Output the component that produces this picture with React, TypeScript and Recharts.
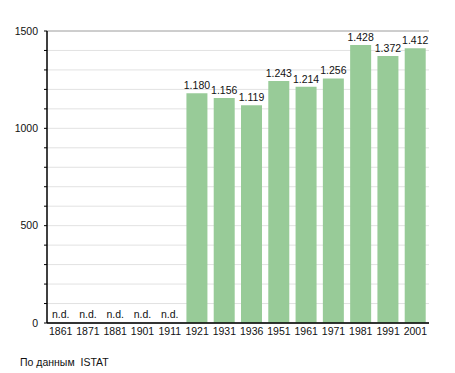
import React from 'react';
import {
  BarChart, Bar, XAxis, YAxis, CartesianGrid, LabelList,
} from 'recharts';

const years = ['1861', '1871', '1881', '1901', '1911', '1921', '1931', '1936', '1951', '1961', '1971', '1981', '1991', '2001'];
const population: (number | null)[] = [null, null, null, null, null, 1180, 1156, 1119, 1243, 1214, 1256, 1428, 1372, 1412];
const minorTicks = [0, 100, 200, 300, 400, 500, 600, 700, 800, 900, 1000, 1100, 1200, 1300, 1400, 1500];
const majorTicks = [0, 500, 1000, 1500];
const source = 'По данным  ISTAT';

const data = years.map((year, i) => ({ year, value: population[i] }));

const FONT = '"Liberation Sans", Arial, sans-serif';
const FS = 10.5;

const fmt = (v: number) => {
  const s = String(v);
  return s.length > 3 ? s.slice(0, s.length - 3) + '.' + s.slice(-3) : s;
};

function YearTick(props: any) {
  const { x, y, payload, index } = props;
  const missing = population[index] === null;
  return (
    <g>
      <text x={x} y={y + 12} textAnchor="middle" fontSize={FS} fill="#111" fontFamily={FONT}>
        {payload.value}
      </text>
      {missing && (
        <text x={x} y={y - 5} textAnchor="middle" fontSize={FS} fill="#111" fontFamily={FONT}>
          n.d.
        </text>
      )}
    </g>
  );
}

export default function App() {
  return (
    <div style={{ position: 'relative', width: 447, height: 365, fontFamily: FONT }}>
      <BarChart
        width={447}
        height={340}
        data={data}
        margin={{ top: 23, right: 26, left: 0, bottom: 0 }}
        barSize={21}
      >
        <CartesianGrid yAxisId="minor" vertical={false} stroke="#e2e2e2" />
        <CartesianGrid yAxisId="major" vertical={false} stroke="#aaaaaa" />
        <XAxis
          dataKey="year"
          height={25}
          tickSize={0}
          tickMargin={0}
          tickLine={false}
          axisLine={{ stroke: '#000', strokeWidth: 1.5 }}
          tick={<YearTick />}
          interval={0}
        />
        <YAxis
          yAxisId="minor"
          width={39}
          domain={[0, 1500]}
          ticks={minorTicks}
          interval={0}
          tickSize={3}
          tickMargin={6}
          tickLine={{ stroke: '#000' }}
          axisLine={{ stroke: '#000', strokeWidth: 1.5 }}
          tickFormatter={(v: number) => (v % 500 === 0 ? String(v) : '')}
          tick={{ fontSize: FS, fill: '#111', fontFamily: FONT }}
        />
        <YAxis yAxisId="major" orientation="right" width={0} hide domain={[0, 1500]} ticks={majorTicks} />
        <Bar yAxisId="minor" dataKey="value" fill="#98cb98" isAnimationActive={false}>
          <LabelList
            dataKey="value"
            position="top"
            offset={4}
            formatter={(v: any) => (v == null ? '' : fmt(v))}
            style={{ fontSize: FS, fill: '#111', fontFamily: FONT }}
          />
        </Bar>
      </BarChart>
      <div style={{ position: 'absolute', left: 12, top: 348, fontSize: FS, color: '#111', whiteSpace: 'pre' }}>
        {source}
      </div>
    </div>
  );
}
